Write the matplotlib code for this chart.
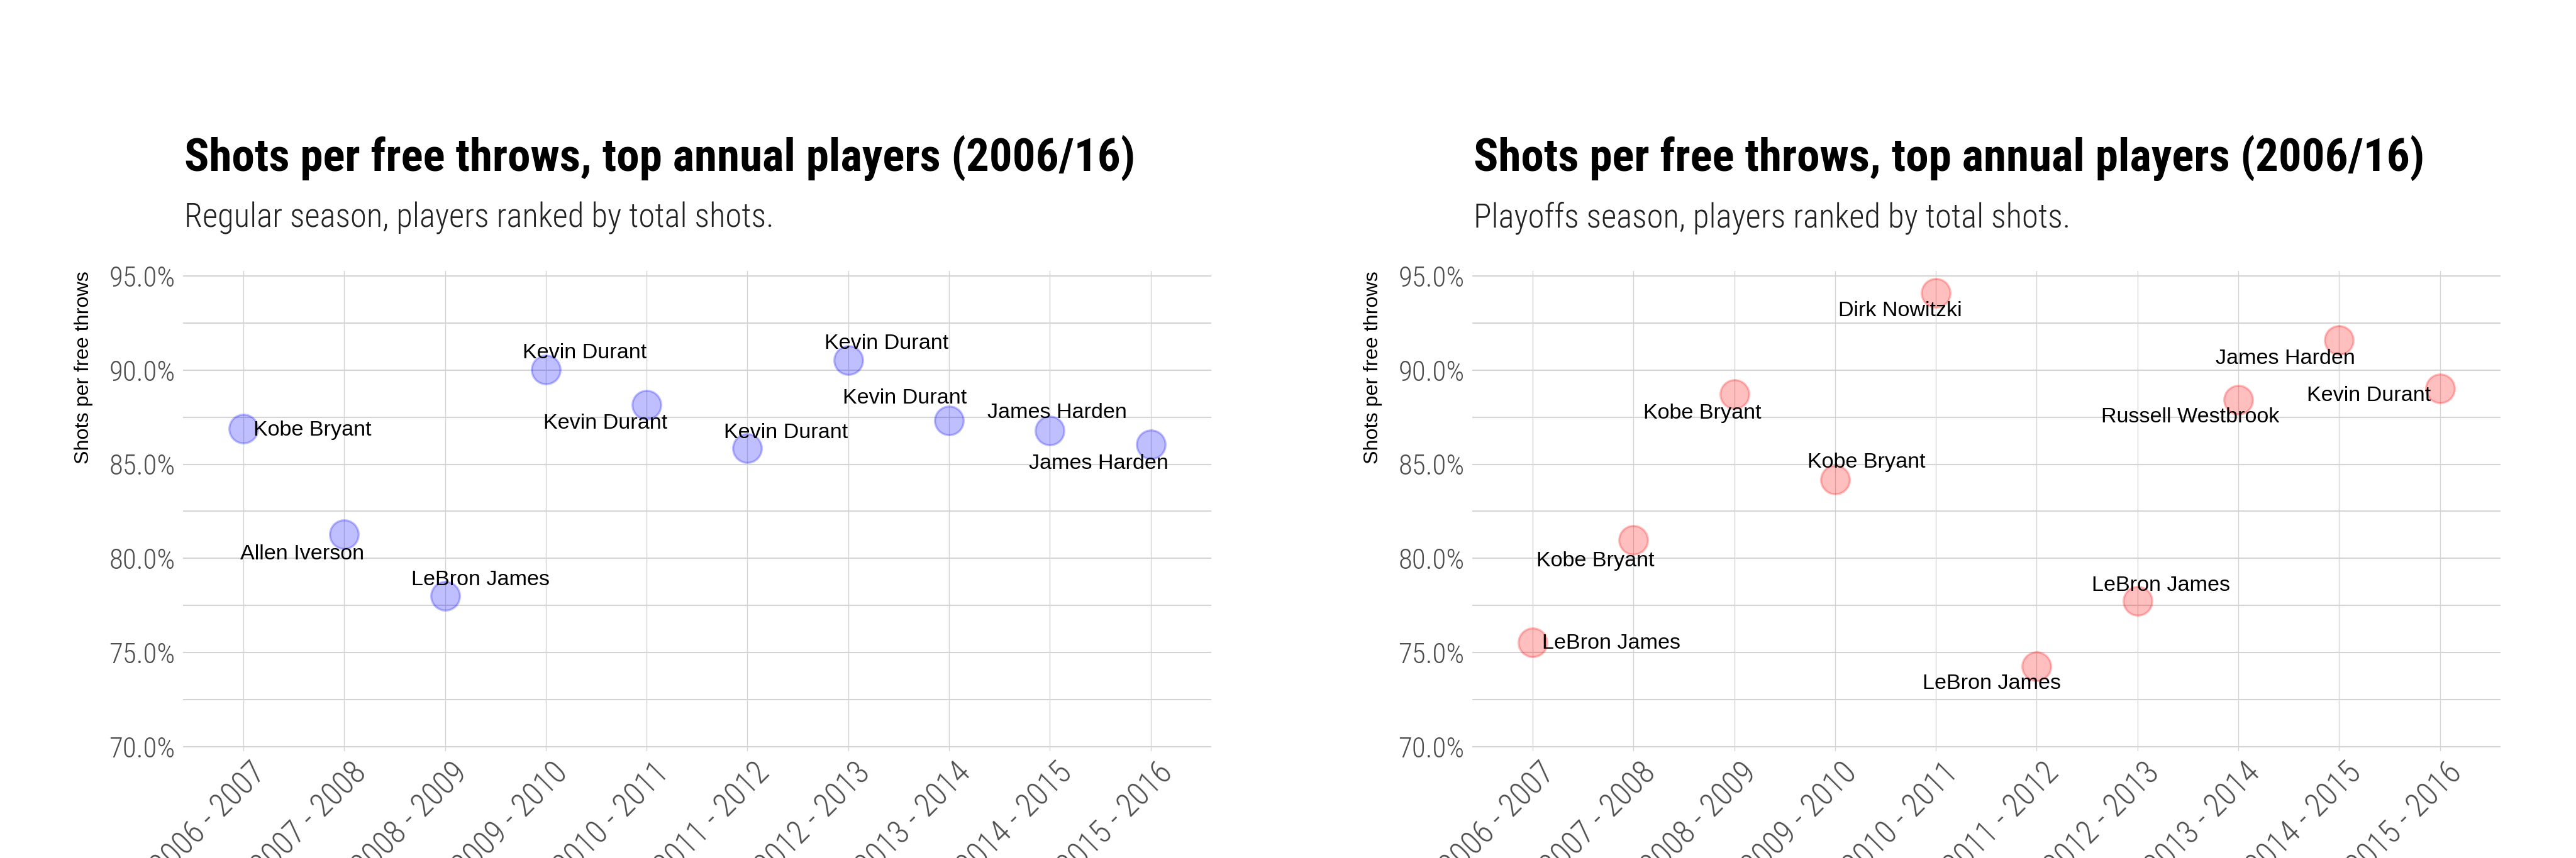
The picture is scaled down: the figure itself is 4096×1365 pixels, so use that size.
import matplotlib
matplotlib.use("Agg")
import matplotlib.pyplot as plt
import matplotlib.transforms as mtransforms
from matplotlib.ticker import FuncFormatter, FixedLocator

seasons = ['2006 - 2007', '2007 - 2008', '2008 - 2009', '2009 - 2010', '2010 - 2011',
           '2011 - 2012', '2012 - 2013', '2013 - 2014', '2014 - 2015', '2015 - 2016']
regular_players = ['Kobe Bryant', 'Allen Iverson', 'LeBron James', 'Kevin Durant', 'Kevin Durant',
                   'Kevin Durant', 'Kevin Durant', 'Kevin Durant', 'James Harden', 'James Harden']
regular_pct = [86.90, 81.28, 78.02, 90.01, 88.16, 85.84, 90.54, 87.33, 86.79, 86.04]
playoff_players = ['LeBron James', 'Kobe Bryant', 'Kobe Bryant', 'Kobe Bryant', 'Dirk Nowitzki',
                   'LeBron James', 'LeBron James', 'Russell Westbrook', 'James Harden', 'Kevin Durant']
playoff_pct = [75.54, 80.97, 88.74, 84.17, 94.11, 74.28, 77.74, 88.43, 91.59, 89.04]

title_text = 'Shots per free throws, top annual players (2006/16)'
subtitles = ['Regular season, players ranked by total shots.',
             'Playoffs season, players ranked by total shots.']
ylabel_text = 'Shots per free throws'

# label offsets in pixels (dx, dy) relative to each point
regular_offsets = [(110, -3), (-67, -31), (56, 25), (62, 27), (-66, -30),
                   (61, 25), (61, 26), (-70, 35), (12, 28), (-83, -30)]
playoff_offsets = [(125, -2), (-61, -33), (-51, -31), (50, 28), (-57, -29),
                   (-71, -28), (37, 25), (-76, -28), (-85, -29), (-113, -12)]

cond_font = 'Roboto Condensed'
label_font = 'Liberation Sans'

DPI = 200
fig = plt.figure(figsize=(4096 / DPI, 1365 / DPI), dpi=DPI)

ax_w, ax_h = 0.3991, 0.5597
ax_y = 0.1242
lefts = [0.07104, 0.57153]
colors = [(0, 0, 1), (1, 0, 0)]
datasets = [(regular_pct, regular_players, regular_offsets),
            (playoff_pct, playoff_players, playoff_offsets)]

xshift = mtransforms.ScaledTranslation(10 / DPI, 0, fig.dpi_scale_trans)

for i, (vals, players, offs) in enumerate(datasets):
    ax = fig.add_axes([lefts[i], ax_y, ax_w, ax_h])
    x = list(range(len(seasons)))
    ax.set_xlim(-0.6, len(seasons) - 1 + 0.6)
    ax.set_ylim(69.75, 95.25)
    for s in ax.spines.values():
        s.set_visible(False)
    ax.set_yticks([70, 75, 80, 85, 90, 95])
    ax.yaxis.set_minor_locator(FixedLocator([72.5, 77.5, 82.5, 87.5, 92.5]))
    ax.yaxis.set_major_formatter(FuncFormatter(lambda v, p: f'{v:.1f}%'))
    ax.set_xticks(x)
    ax.set_xticklabels(seasons, rotation=45, ha='right', va='top', rotation_mode='anchor')
    ax.grid(True, which='major', axis='y', color='#d4d4d4', lw=0.75)
    ax.grid(True, which='minor', axis='y', color='#d4d4d4', lw=0.75)
    ax.grid(True, which='major', axis='x', color='#d4d4d4', lw=0.5)
    ax.set_axisbelow(True)
    ax.tick_params(axis='both', which='both', length=0)
    ax.tick_params(axis='y', pad=4.5)
    ax.tick_params(axis='x', pad=3.2)
    for lab in ax.get_yticklabels():
        lab.set_fontfamily(cond_font)
        lab.set_fontweight('light')
        lab.set_fontsize(16.2)
        lab.set_color('#4d4d4d')
    for lab in ax.get_xticklabels():
        lab.set_fontfamily(cond_font)
        lab.set_fontweight('light')
        lab.set_fontsize(18.3)
        lab.set_color('#4d4d4d')
        lab.set_transform(lab.get_transform() + xshift)
    c = colors[i]
    ax.scatter(x, vals, s=270, facecolor=(*c, 0.25), edgecolor=(*c, 0.25), linewidth=1.2, zorder=3)
    for xi, v, name, (dx, dy) in zip(x, vals, players, offs):
        ax.annotate(name, (xi, v), xytext=(dx, dy), textcoords='offset pixels',
                    ha='center', va='center', fontsize=12.3, family=label_font,
                    color='black', zorder=4)
    ax.set_ylabel(ylabel_text, loc='top', fontsize=11.6, family=label_font, color='black')
    ax.yaxis.set_label_coords(-0.0875, 1.0)
    fig.text(lefts[i] + 0.0004, 0.8007, title_text, fontsize=26.3, fontweight='bold',
             family=cond_font, ha='left', va='baseline', color='black')
    fig.text(lefts[i] + 0.0004, 0.7355, subtitles[i], fontsize=19, fontweight='light',
             family=cond_font, ha='left', va='baseline', color='#222222')

fig.savefig('out.png', dpi=DPI, facecolor='white')
